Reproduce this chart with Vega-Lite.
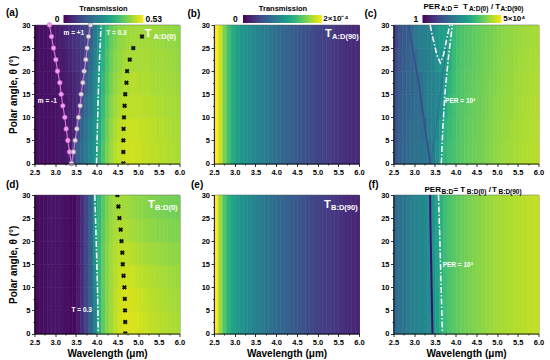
{
"$schema":"https://vega.github.io/schema/vega-lite/v6.json",
"background":"white",
"padding":{"left":5.5,"top":2,"right":5,"bottom":5},
"autosize":{"type":"pad"},
"config":{
 "font":"Liberation Sans",
 "view":{"stroke":"#000","strokeWidth":0.8},
 "axis":{"labelFontSize":7.5,"labelFontWeight":"bold","labelColor":"#000","labelFlush":false,"labelOverlap":false,"titleFontSize":10,"titleFontWeight":"bold","titleColor":"#000","tickColor":"#000","tickSize":3,"tickWidth":0.8,"domainColor":"#000","domainWidth":0.8,"grid":false,"labelPadding":1.5,"titlePadding":3},
 "legend":{"gradientStrokeWidth":0,"padding":0,"labelOpacity":0}
},
"datasets":{
"A":[
{"x":2.55,"y":2.5,"v":0.021},{"x":2.65,"y":2.5,"v":0.021},{"x":2.75,"y":2.5,"v":0.021},{"x":2.85,"y":2.5,"v":0.021},{"x":2.95,"y":2.5,"v":0.021},{"x":3.05,"y":2.5,"v":0.027},{"x":3.15,"y":2.5,"v":0.027},{"x":3.25,"y":2.5,"v":0.032},{"x":3.35,"y":2.5,"v":0.037},{"x":3.45,"y":2.5,"v":0.106},{"x":3.55,"y":2.5,"v":0.164},{"x":3.65,"y":2.5,"v":0.191},{"x":3.75,"y":2.5,"v":0.217},{"x":3.85,"y":2.5,"v":0.249},{"x":3.95,"y":2.5,"v":0.276},{"x":4.05,"y":2.5,"v":0.329},{"x":4.15,"y":2.5,"v":0.382},{"x":4.25,"y":2.5,"v":0.424},{"x":4.35,"y":2.5,"v":0.451},{"x":4.45,"y":2.5,"v":0.472},{"x":4.55,"y":2.5,"v":0.482},{"x":4.65,"y":2.5,"v":0.488},{"x":4.75,"y":2.5,"v":0.493},{"x":4.85,"y":2.5,"v":0.493},{"x":4.95,"y":2.5,"v":0.488},{"x":5.05,"y":2.5,"v":0.488},{"x":5.15,"y":2.5,"v":0.482},{"x":5.25,"y":2.5,"v":0.482},{"x":5.35,"y":2.5,"v":0.477},{"x":5.45,"y":2.5,"v":0.477},{"x":5.55,"y":2.5,"v":0.472},{"x":5.65,"y":2.5,"v":0.472},{"x":5.75,"y":2.5,"v":0.466},{"x":5.85,"y":2.5,"v":0.466},{"x":5.95,"y":2.5,"v":0.461},
{"x":2.55,"y":7.5,"v":0.021},{"x":2.65,"y":7.5,"v":0.021},{"x":2.75,"y":7.5,"v":0.021},{"x":2.85,"y":7.5,"v":0.021},{"x":2.95,"y":7.5,"v":0.021},{"x":3.05,"y":7.5,"v":0.027},{"x":3.15,"y":7.5,"v":0.027},{"x":3.25,"y":7.5,"v":0.032},{"x":3.35,"y":7.5,"v":0.037},{"x":3.45,"y":7.5,"v":0.048},{"x":3.55,"y":7.5,"v":0.127},{"x":3.65,"y":7.5,"v":0.175},{"x":3.75,"y":7.5,"v":0.207},{"x":3.85,"y":7.5,"v":0.239},{"x":3.95,"y":7.5,"v":0.270},{"x":4.05,"y":7.5,"v":0.318},{"x":4.15,"y":7.5,"v":0.371},{"x":4.25,"y":7.5,"v":0.413},{"x":4.35,"y":7.5,"v":0.445},{"x":4.45,"y":7.5,"v":0.466},{"x":4.55,"y":7.5,"v":0.477},{"x":4.65,"y":7.5,"v":0.482},{"x":4.75,"y":7.5,"v":0.488},{"x":4.85,"y":7.5,"v":0.488},{"x":4.95,"y":7.5,"v":0.488},{"x":5.05,"y":7.5,"v":0.482},{"x":5.15,"y":7.5,"v":0.482},{"x":5.25,"y":7.5,"v":0.477},{"x":5.35,"y":7.5,"v":0.477},{"x":5.45,"y":7.5,"v":0.472},{"x":5.55,"y":7.5,"v":0.472},{"x":5.65,"y":7.5,"v":0.466},{"x":5.75,"y":7.5,"v":0.466},{"x":5.85,"y":7.5,"v":0.461},{"x":5.95,"y":7.5,"v":0.461},
{"x":2.55,"y":12.5,"v":0.021},{"x":2.65,"y":12.5,"v":0.021},{"x":2.75,"y":12.5,"v":0.021},{"x":2.85,"y":12.5,"v":0.021},{"x":2.95,"y":12.5,"v":0.021},{"x":3.05,"y":12.5,"v":0.027},{"x":3.15,"y":12.5,"v":0.027},{"x":3.25,"y":12.5,"v":0.032},{"x":3.35,"y":12.5,"v":0.042},{"x":3.45,"y":12.5,"v":0.053},{"x":3.55,"y":12.5,"v":0.069},{"x":3.65,"y":12.5,"v":0.143},{"x":3.75,"y":12.5,"v":0.180},{"x":3.85,"y":12.5,"v":0.217},{"x":3.95,"y":12.5,"v":0.260},{"x":4.05,"y":12.5,"v":0.307},{"x":4.15,"y":12.5,"v":0.360},{"x":4.25,"y":12.5,"v":0.403},{"x":4.35,"y":12.5,"v":0.435},{"x":4.45,"y":12.5,"v":0.456},{"x":4.55,"y":12.5,"v":0.466},{"x":4.65,"y":12.5,"v":0.477},{"x":4.75,"y":12.5,"v":0.477},{"x":4.85,"y":12.5,"v":0.477},{"x":4.95,"y":12.5,"v":0.477},{"x":5.05,"y":12.5,"v":0.477},{"x":5.15,"y":12.5,"v":0.472},{"x":5.25,"y":12.5,"v":0.472},{"x":5.35,"y":12.5,"v":0.472},{"x":5.45,"y":12.5,"v":0.466},{"x":5.55,"y":12.5,"v":0.466},{"x":5.65,"y":12.5,"v":0.461},{"x":5.75,"y":12.5,"v":0.461},{"x":5.85,"y":12.5,"v":0.461},{"x":5.95,"y":12.5,"v":0.456},
{"x":2.55,"y":17.5,"v":0.021},{"x":2.65,"y":17.5,"v":0.021},{"x":2.75,"y":17.5,"v":0.021},{"x":2.85,"y":17.5,"v":0.021},{"x":2.95,"y":17.5,"v":0.027},{"x":3.05,"y":17.5,"v":0.027},{"x":3.15,"y":17.5,"v":0.032},{"x":3.25,"y":17.5,"v":0.037},{"x":3.35,"y":17.5,"v":0.042},{"x":3.45,"y":17.5,"v":0.053},{"x":3.55,"y":17.5,"v":0.069},{"x":3.65,"y":17.5,"v":0.090},{"x":3.75,"y":17.5,"v":0.159},{"x":3.85,"y":17.5,"v":0.201},{"x":3.95,"y":17.5,"v":0.249},{"x":4.05,"y":17.5,"v":0.297},{"x":4.15,"y":17.5,"v":0.350},{"x":4.25,"y":17.5,"v":0.392},{"x":4.35,"y":17.5,"v":0.424},{"x":4.45,"y":17.5,"v":0.445},{"x":4.55,"y":17.5,"v":0.456},{"x":4.65,"y":17.5,"v":0.466},{"x":4.75,"y":17.5,"v":0.466},{"x":4.85,"y":17.5,"v":0.472},{"x":4.95,"y":17.5,"v":0.472},{"x":5.05,"y":17.5,"v":0.466},{"x":5.15,"y":17.5,"v":0.466},{"x":5.25,"y":17.5,"v":0.466},{"x":5.35,"y":17.5,"v":0.461},{"x":5.45,"y":17.5,"v":0.461},{"x":5.55,"y":17.5,"v":0.461},{"x":5.65,"y":17.5,"v":0.456},{"x":5.75,"y":17.5,"v":0.456},{"x":5.85,"y":17.5,"v":0.456},{"x":5.95,"y":17.5,"v":0.451},
{"x":2.55,"y":22.5,"v":0.021},{"x":2.65,"y":22.5,"v":0.021},{"x":2.75,"y":22.5,"v":0.021},{"x":2.85,"y":22.5,"v":0.021},{"x":2.95,"y":22.5,"v":0.027},{"x":3.05,"y":22.5,"v":0.032},{"x":3.15,"y":22.5,"v":0.037},{"x":3.25,"y":22.5,"v":0.042},{"x":3.35,"y":22.5,"v":0.053},{"x":3.45,"y":22.5,"v":0.064},{"x":3.55,"y":22.5,"v":0.074},{"x":3.65,"y":22.5,"v":0.090},{"x":3.75,"y":22.5,"v":0.127},{"x":3.85,"y":22.5,"v":0.180},{"x":3.95,"y":22.5,"v":0.228},{"x":4.05,"y":22.5,"v":0.281},{"x":4.15,"y":22.5,"v":0.339},{"x":4.25,"y":22.5,"v":0.382},{"x":4.35,"y":22.5,"v":0.413},{"x":4.45,"y":22.5,"v":0.435},{"x":4.55,"y":22.5,"v":0.445},{"x":4.65,"y":22.5,"v":0.456},{"x":4.75,"y":22.5,"v":0.461},{"x":4.85,"y":22.5,"v":0.461},{"x":4.95,"y":22.5,"v":0.461},{"x":5.05,"y":22.5,"v":0.461},{"x":5.15,"y":22.5,"v":0.461},{"x":5.25,"y":22.5,"v":0.461},{"x":5.35,"y":22.5,"v":0.456},{"x":5.45,"y":22.5,"v":0.456},{"x":5.55,"y":22.5,"v":0.456},{"x":5.65,"y":22.5,"v":0.451},{"x":5.75,"y":22.5,"v":0.451},{"x":5.85,"y":22.5,"v":0.451},{"x":5.95,"y":22.5,"v":0.445},
{"x":2.55,"y":27.5,"v":0.021},{"x":2.65,"y":27.5,"v":0.021},{"x":2.75,"y":27.5,"v":0.021},{"x":2.85,"y":27.5,"v":0.027},{"x":2.95,"y":27.5,"v":0.032},{"x":3.05,"y":27.5,"v":0.037},{"x":3.15,"y":27.5,"v":0.042},{"x":3.25,"y":27.5,"v":0.053},{"x":3.35,"y":27.5,"v":0.064},{"x":3.45,"y":27.5,"v":0.074},{"x":3.55,"y":27.5,"v":0.085},{"x":3.65,"y":27.5,"v":0.095},{"x":3.75,"y":27.5,"v":0.106},{"x":3.85,"y":27.5,"v":0.159},{"x":3.95,"y":27.5,"v":0.212},{"x":4.05,"y":27.5,"v":0.265},{"x":4.15,"y":27.5,"v":0.329},{"x":4.25,"y":27.5,"v":0.371},{"x":4.35,"y":27.5,"v":0.403},{"x":4.45,"y":27.5,"v":0.424},{"x":4.55,"y":27.5,"v":0.440},{"x":4.65,"y":27.5,"v":0.445},{"x":4.75,"y":27.5,"v":0.451},{"x":4.85,"y":27.5,"v":0.456},{"x":4.95,"y":27.5,"v":0.456},{"x":5.05,"y":27.5,"v":0.456},{"x":5.15,"y":27.5,"v":0.456},{"x":5.25,"y":27.5,"v":0.456},{"x":5.35,"y":27.5,"v":0.451},{"x":5.45,"y":27.5,"v":0.451},{"x":5.55,"y":27.5,"v":0.451},{"x":5.65,"y":27.5,"v":0.445},{"x":5.75,"y":27.5,"v":0.445},{"x":5.85,"y":27.5,"v":0.445},{"x":5.95,"y":27.5,"v":0.440}
],
"B":[
{"x":2.55,"y":15,"v":2.0e-4},{"x":2.65,"y":15,"v":1.84e-4},{"x":2.75,"y":15,"v":1.6e-4},{"x":2.85,"y":15,"v":1.4e-4},{"x":2.95,"y":15,"v":1.24e-4},{"x":3.05,"y":15,"v":1.14e-4},{"x":3.15,"y":15,"v":1.06e-4},{"x":3.25,"y":15,"v":1.02e-4},{"x":3.35,"y":15,"v":9.8e-5},{"x":3.45,"y":15,"v":9.4e-5},{"x":3.55,"y":15,"v":9.0e-5},{"x":3.65,"y":15,"v":8.6e-5},{"x":3.75,"y":15,"v":8.2e-5},{"x":3.85,"y":15,"v":7.8e-5},{"x":3.95,"y":15,"v":7.4e-5},{"x":4.05,"y":15,"v":7.0e-5},{"x":4.15,"y":15,"v":6.7e-5},{"x":4.25,"y":15,"v":6.4e-5},{"x":4.35,"y":15,"v":6.0e-5},{"x":4.45,"y":15,"v":5.7e-5},{"x":4.55,"y":15,"v":5.4e-5},{"x":4.65,"y":15,"v":5.1e-5},{"x":4.75,"y":15,"v":4.8e-5},{"x":4.85,"y":15,"v":4.5e-5},{"x":4.95,"y":15,"v":4.2e-5},{"x":5.05,"y":15,"v":4.0e-5},{"x":5.15,"y":15,"v":3.8e-5},{"x":5.25,"y":15,"v":3.6e-5},{"x":5.35,"y":15,"v":3.3e-5},{"x":5.45,"y":15,"v":3.1e-5},{"x":5.55,"y":15,"v":2.9e-5},{"x":5.65,"y":15,"v":2.7e-5},{"x":5.75,"y":15,"v":2.5e-5},{"x":5.85,"y":15,"v":2.4e-5},{"x":5.95,"y":15,"v":2.3e-5}
],
"C":[
{"x":2.55,"y":2.5,"v":18.6},{"x":2.65,"y":2.5,"v":28.6},{"x":2.75,"y":2.5,"v":35.5},{"x":2.85,"y":2.5,"v":44.2},{"x":2.95,"y":2.5,"v":49.2},{"x":3.05,"y":2.5,"v":54.8},{"x":3.15,"y":2.5,"v":61.1},{"x":3.25,"y":2.5,"v":68.1},{"x":3.35,"y":2.5,"v":61.1},{"x":3.45,"y":2.5,"v":94.2},{"x":3.55,"y":2.5,"v":224},{"x":3.65,"y":2.5,"v":531},{"x":3.75,"y":2.5,"v":1262},{"x":3.85,"y":2.5,"v":1746},{"x":3.95,"y":2.5,"v":2168},{"x":4.05,"y":2.5,"v":2692},{"x":4.15,"y":2.5,"v":3170},{"x":4.25,"y":2.5,"v":3724},{"x":4.35,"y":2.5,"v":4150},{"x":4.45,"y":2.5,"v":4624},{"x":4.55,"y":2.5,"v":5152},{"x":4.65,"y":2.5,"v":5741},{"x":4.75,"y":2.5,"v":6397},{"x":4.85,"y":2.5,"v":7129},{"x":4.95,"y":2.5,"v":7943},{"x":5.05,"y":2.5,"v":8851},{"x":5.15,"y":2.5,"v":9863},{"x":5.25,"y":2.5,"v":10420},{"x":5.35,"y":2.5,"v":10990},{"x":5.45,"y":2.5,"v":12250},{"x":5.55,"y":2.5,"v":12940},{"x":5.65,"y":2.5,"v":13650},{"x":5.75,"y":2.5,"v":14420},{"x":5.85,"y":2.5,"v":15210},{"x":5.95,"y":2.5,"v":16070},
{"x":2.55,"y":7.5,"v":16.7},{"x":2.65,"y":7.5,"v":25.7},{"x":2.75,"y":7.5,"v":31.9},{"x":2.85,"y":7.5,"v":39.6},{"x":2.95,"y":7.5,"v":44.2},{"x":3.05,"y":7.5,"v":49.2},{"x":3.15,"y":7.5,"v":54.8},{"x":3.25,"y":7.5,"v":49.2},{"x":3.35,"y":7.5,"v":94.2},{"x":3.45,"y":7.5,"v":117},{"x":3.55,"y":7.5,"v":162},{"x":3.65,"y":7.5,"v":428},{"x":3.75,"y":7.5,"v":1133},{"x":3.85,"y":7.5,"v":1567},{"x":3.95,"y":7.5,"v":2054},{"x":4.05,"y":7.5,"v":2553},{"x":4.15,"y":7.5,"v":3000},{"x":4.25,"y":7.5,"v":3532},{"x":4.35,"y":7.5,"v":3936},{"x":4.45,"y":7.5,"v":4385},{"x":4.55,"y":7.5,"v":4887},{"x":4.65,"y":7.5,"v":5445},{"x":4.75,"y":7.5,"v":6067},{"x":4.85,"y":7.5,"v":6761},{"x":4.95,"y":7.5,"v":7534},{"x":5.05,"y":7.5,"v":8395},{"x":5.15,"y":7.5,"v":9354},{"x":5.25,"y":7.5,"v":9863},{"x":5.35,"y":7.5,"v":10420},{"x":5.45,"y":7.5,"v":11610},{"x":5.55,"y":7.5,"v":12250},{"x":5.65,"y":7.5,"v":12940},{"x":5.75,"y":7.5,"v":13650},{"x":5.85,"y":7.5,"v":14420},{"x":5.95,"y":7.5,"v":15210},
{"x":2.55,"y":12.5,"v":15.0},{"x":2.65,"y":12.5,"v":23.1},{"x":2.75,"y":12.5,"v":28.6},{"x":2.85,"y":12.5,"v":35.5},{"x":2.95,"y":12.5,"v":39.6},{"x":3.05,"y":12.5,"v":44.2},{"x":3.15,"y":12.5,"v":39.6},{"x":3.25,"y":12.5,"v":84.5},{"x":3.35,"y":12.5,"v":105},{"x":3.45,"y":12.5,"v":117},{"x":3.55,"y":12.5,"v":145},{"x":3.65,"y":12.5,"v":224},{"x":3.75,"y":12.5,"v":659},{"x":3.85,"y":12.5,"v":1406},{"x":3.95,"y":12.5,"v":1946},{"x":4.05,"y":12.5,"v":2415},{"x":4.15,"y":12.5,"v":2844},{"x":4.25,"y":12.5,"v":3343},{"x":4.35,"y":12.5,"v":3724},{"x":4.45,"y":12.5,"v":4150},{"x":4.55,"y":12.5,"v":4624},{"x":4.65,"y":12.5,"v":5152},{"x":4.75,"y":12.5,"v":5741},{"x":4.85,"y":12.5,"v":6397},{"x":4.95,"y":12.5,"v":7129},{"x":5.05,"y":12.5,"v":7943},{"x":5.15,"y":12.5,"v":8851},{"x":5.25,"y":12.5,"v":9354},{"x":5.35,"y":12.5,"v":9863},{"x":5.45,"y":12.5,"v":10990},{"x":5.55,"y":12.5,"v":11610},{"x":5.65,"y":12.5,"v":12250},{"x":5.75,"y":12.5,"v":12940},{"x":5.85,"y":12.5,"v":13650},{"x":5.95,"y":12.5,"v":14420},
{"x":2.55,"y":17.5,"v":13.4},{"x":2.65,"y":17.5,"v":20.7},{"x":2.75,"y":17.5,"v":25.7},{"x":2.85,"y":17.5,"v":31.9},{"x":2.95,"y":17.5,"v":35.5},{"x":3.05,"y":17.5,"v":39.6},{"x":3.15,"y":17.5,"v":49.2},{"x":3.25,"y":17.5,"v":84.5},{"x":3.35,"y":17.5,"v":105},{"x":3.45,"y":17.5,"v":117},{"x":3.55,"y":17.5,"v":145},{"x":3.65,"y":17.5,"v":180},{"x":3.75,"y":17.5,"v":384},{"x":3.85,"y":17.5,"v":1133},{"x":3.95,"y":17.5,"v":1746},{"x":4.05,"y":17.5,"v":2291},{"x":4.15,"y":17.5,"v":2692},{"x":4.25,"y":17.5,"v":3170},{"x":4.35,"y":17.5,"v":3532},{"x":4.45,"y":17.5,"v":3936},{"x":4.55,"y":17.5,"v":4385},{"x":4.65,"y":17.5,"v":4887},{"x":4.75,"y":17.5,"v":5445},{"x":4.85,"y":17.5,"v":6067},{"x":4.95,"y":17.5,"v":6761},{"x":5.05,"y":17.5,"v":7534},{"x":5.15,"y":17.5,"v":8395},{"x":5.25,"y":17.5,"v":8851},{"x":5.35,"y":17.5,"v":9354},{"x":5.45,"y":17.5,"v":10420},{"x":5.55,"y":17.5,"v":10990},{"x":5.65,"y":17.5,"v":11610},{"x":5.75,"y":17.5,"v":12250},{"x":5.85,"y":17.5,"v":12940},{"x":5.95,"y":17.5,"v":13650},
{"x":2.55,"y":22.5,"v":10.8},{"x":2.65,"y":22.5,"v":18.6},{"x":2.75,"y":22.5,"v":23.1},{"x":2.85,"y":22.5,"v":28.6},{"x":2.95,"y":22.5,"v":31.9},{"x":3.05,"y":22.5,"v":49.2},{"x":3.15,"y":22.5,"v":84.5},{"x":3.25,"y":22.5,"v":94.2},{"x":3.35,"y":22.5,"v":105},{"x":3.45,"y":22.5,"v":130},{"x":3.55,"y":22.5,"v":224},{"x":3.65,"y":22.5,"v":277},{"x":3.75,"y":22.5,"v":344},{"x":3.85,"y":22.5,"v":819},{"x":3.95,"y":22.5,"v":1567},{"x":4.05,"y":22.5,"v":2168},{"x":4.15,"y":22.5,"v":2553},{"x":4.25,"y":22.5,"v":3000},{"x":4.35,"y":22.5,"v":3343},{"x":4.45,"y":22.5,"v":3724},{"x":4.55,"y":22.5,"v":4150},{"x":4.65,"y":22.5,"v":4624},{"x":4.75,"y":22.5,"v":5152},{"x":4.85,"y":22.5,"v":5741},{"x":4.95,"y":22.5,"v":6397},{"x":5.05,"y":22.5,"v":7129},{"x":5.15,"y":22.5,"v":7943},{"x":5.25,"y":22.5,"v":8395},{"x":5.35,"y":22.5,"v":8851},{"x":5.45,"y":22.5,"v":9863},{"x":5.55,"y":22.5,"v":10420},{"x":5.65,"y":22.5,"v":10990},{"x":5.75,"y":22.5,"v":11610},{"x":5.85,"y":22.5,"v":12250},{"x":5.95,"y":22.5,"v":12940},
{"x":2.55,"y":27.5,"v":8.7},{"x":2.65,"y":27.5,"v":16.7},{"x":2.75,"y":27.5,"v":20.7},{"x":2.85,"y":27.5,"v":25.7},{"x":2.95,"y":27.5,"v":44.2},{"x":3.05,"y":27.5,"v":75.8},{"x":3.15,"y":27.5,"v":94.2},{"x":3.25,"y":27.5,"v":105},{"x":3.35,"y":27.5,"v":117},{"x":3.45,"y":27.5,"v":162},{"x":3.55,"y":27.5,"v":309},{"x":3.65,"y":27.5,"v":428},{"x":3.75,"y":27.5,"v":428},{"x":3.85,"y":27.5,"v":659},{"x":3.95,"y":27.5,"v":1406},{"x":4.05,"y":27.5,"v":2054},{"x":4.15,"y":27.5,"v":2415},{"x":4.25,"y":27.5,"v":2844},{"x":4.35,"y":27.5,"v":3170},{"x":4.45,"y":27.5,"v":3532},{"x":4.55,"y":27.5,"v":3936},{"x":4.65,"y":27.5,"v":4385},{"x":4.75,"y":27.5,"v":4887},{"x":4.85,"y":27.5,"v":5445},{"x":4.95,"y":27.5,"v":6067},{"x":5.05,"y":27.5,"v":6761},{"x":5.15,"y":27.5,"v":7534},{"x":5.25,"y":27.5,"v":7943},{"x":5.35,"y":27.5,"v":8395},{"x":5.45,"y":27.5,"v":9354},{"x":5.55,"y":27.5,"v":9863},{"x":5.65,"y":27.5,"v":10420},{"x":5.75,"y":27.5,"v":10990},{"x":5.85,"y":27.5,"v":11610},{"x":5.95,"y":27.5,"v":12250}
],
"D":[
{"x":2.55,"y":2.5,"v":0.016},{"x":2.65,"y":2.5,"v":0.016},{"x":2.75,"y":2.5,"v":0.021},{"x":2.85,"y":2.5,"v":0.027},{"x":2.95,"y":2.5,"v":0.027},{"x":3.05,"y":2.5,"v":0.027},{"x":3.15,"y":2.5,"v":0.027},{"x":3.25,"y":2.5,"v":0.021},{"x":3.35,"y":2.5,"v":0.011},{"x":3.45,"y":2.5,"v":0.011},{"x":3.55,"y":2.5,"v":0.037},{"x":3.65,"y":2.5,"v":0.069},{"x":3.75,"y":2.5,"v":0.111},{"x":3.85,"y":2.5,"v":0.164},{"x":3.95,"y":2.5,"v":0.233},{"x":4.05,"y":2.5,"v":0.334},{"x":4.15,"y":2.5,"v":0.398},{"x":4.25,"y":2.5,"v":0.435},{"x":4.35,"y":2.5,"v":0.456},{"x":4.45,"y":2.5,"v":0.477},{"x":4.55,"y":2.5,"v":0.493},{"x":4.65,"y":2.5,"v":0.501},{"x":4.75,"y":2.5,"v":0.504},{"x":4.85,"y":2.5,"v":0.501},{"x":4.95,"y":2.5,"v":0.498},{"x":5.05,"y":2.5,"v":0.493},{"x":5.15,"y":2.5,"v":0.488},{"x":5.25,"y":2.5,"v":0.482},{"x":5.35,"y":2.5,"v":0.480},{"x":5.45,"y":2.5,"v":0.477},{"x":5.55,"y":2.5,"v":0.472},{"x":5.65,"y":2.5,"v":0.469},{"x":5.75,"y":2.5,"v":0.466},{"x":5.85,"y":2.5,"v":0.464},{"x":5.95,"y":2.5,"v":0.461},
{"x":2.55,"y":7.5,"v":0.016},{"x":2.65,"y":7.5,"v":0.016},{"x":2.75,"y":7.5,"v":0.021},{"x":2.85,"y":7.5,"v":0.027},{"x":2.95,"y":7.5,"v":0.027},{"x":3.05,"y":7.5,"v":0.027},{"x":3.15,"y":7.5,"v":0.027},{"x":3.25,"y":7.5,"v":0.021},{"x":3.35,"y":7.5,"v":0.011},{"x":3.45,"y":7.5,"v":0.011},{"x":3.55,"y":7.5,"v":0.037},{"x":3.65,"y":7.5,"v":0.069},{"x":3.75,"y":7.5,"v":0.111},{"x":3.85,"y":7.5,"v":0.164},{"x":3.95,"y":7.5,"v":0.239},{"x":4.05,"y":7.5,"v":0.339},{"x":4.15,"y":7.5,"v":0.398},{"x":4.25,"y":7.5,"v":0.435},{"x":4.35,"y":7.5,"v":0.456},{"x":4.45,"y":7.5,"v":0.477},{"x":4.55,"y":7.5,"v":0.490},{"x":4.65,"y":7.5,"v":0.498},{"x":4.75,"y":7.5,"v":0.498},{"x":4.85,"y":7.5,"v":0.496},{"x":4.95,"y":7.5,"v":0.493},{"x":5.05,"y":7.5,"v":0.488},{"x":5.15,"y":7.5,"v":0.482},{"x":5.25,"y":7.5,"v":0.477},{"x":5.35,"y":7.5,"v":0.474},{"x":5.45,"y":7.5,"v":0.472},{"x":5.55,"y":7.5,"v":0.466},{"x":5.65,"y":7.5,"v":0.464},{"x":5.75,"y":7.5,"v":0.461},{"x":5.85,"y":7.5,"v":0.458},{"x":5.95,"y":7.5,"v":0.456},
{"x":2.55,"y":12.5,"v":0.016},{"x":2.65,"y":12.5,"v":0.016},{"x":2.75,"y":12.5,"v":0.021},{"x":2.85,"y":12.5,"v":0.027},{"x":2.95,"y":12.5,"v":0.027},{"x":3.05,"y":12.5,"v":0.027},{"x":3.15,"y":12.5,"v":0.027},{"x":3.25,"y":12.5,"v":0.021},{"x":3.35,"y":12.5,"v":0.011},{"x":3.45,"y":12.5,"v":0.011},{"x":3.55,"y":12.5,"v":0.037},{"x":3.65,"y":12.5,"v":0.069},{"x":3.75,"y":12.5,"v":0.111},{"x":3.85,"y":12.5,"v":0.164},{"x":3.95,"y":12.5,"v":0.249},{"x":4.05,"y":12.5,"v":0.345},{"x":4.15,"y":12.5,"v":0.403},{"x":4.25,"y":12.5,"v":0.435},{"x":4.35,"y":12.5,"v":0.456},{"x":4.45,"y":12.5,"v":0.472},{"x":4.55,"y":12.5,"v":0.485},{"x":4.65,"y":12.5,"v":0.490},{"x":4.75,"y":12.5,"v":0.490},{"x":4.85,"y":12.5,"v":0.488},{"x":4.95,"y":12.5,"v":0.482},{"x":5.05,"y":12.5,"v":0.477},{"x":5.15,"y":12.5,"v":0.472},{"x":5.25,"y":12.5,"v":0.469},{"x":5.35,"y":12.5,"v":0.466},{"x":5.45,"y":12.5,"v":0.464},{"x":5.55,"y":12.5,"v":0.461},{"x":5.65,"y":12.5,"v":0.458},{"x":5.75,"y":12.5,"v":0.456},{"x":5.85,"y":12.5,"v":0.453},{"x":5.95,"y":12.5,"v":0.451},
{"x":2.55,"y":17.5,"v":0.016},{"x":2.65,"y":17.5,"v":0.016},{"x":2.75,"y":17.5,"v":0.021},{"x":2.85,"y":17.5,"v":0.027},{"x":2.95,"y":17.5,"v":0.027},{"x":3.05,"y":17.5,"v":0.027},{"x":3.15,"y":17.5,"v":0.027},{"x":3.25,"y":17.5,"v":0.021},{"x":3.35,"y":17.5,"v":0.011},{"x":3.45,"y":17.5,"v":0.011},{"x":3.55,"y":17.5,"v":0.037},{"x":3.65,"y":17.5,"v":0.069},{"x":3.75,"y":17.5,"v":0.111},{"x":3.85,"y":17.5,"v":0.164},{"x":3.95,"y":17.5,"v":0.260},{"x":4.05,"y":17.5,"v":0.350},{"x":4.15,"y":17.5,"v":0.403},{"x":4.25,"y":17.5,"v":0.435},{"x":4.35,"y":17.5,"v":0.456},{"x":4.45,"y":17.5,"v":0.469},{"x":4.55,"y":17.5,"v":0.477},{"x":4.65,"y":17.5,"v":0.480},{"x":4.75,"y":17.5,"v":0.477},{"x":4.85,"y":17.5,"v":0.474},{"x":4.95,"y":17.5,"v":0.469},{"x":5.05,"y":17.5,"v":0.464},{"x":5.15,"y":17.5,"v":0.458},{"x":5.25,"y":17.5,"v":0.456},{"x":5.35,"y":17.5,"v":0.453},{"x":5.45,"y":17.5,"v":0.451},{"x":5.55,"y":17.5,"v":0.448},{"x":5.65,"y":17.5,"v":0.445},{"x":5.75,"y":17.5,"v":0.443},{"x":5.85,"y":17.5,"v":0.440},{"x":5.95,"y":17.5,"v":0.440},
{"x":2.55,"y":22.5,"v":0.016},{"x":2.65,"y":22.5,"v":0.016},{"x":2.75,"y":22.5,"v":0.021},{"x":2.85,"y":22.5,"v":0.027},{"x":2.95,"y":22.5,"v":0.027},{"x":3.05,"y":22.5,"v":0.027},{"x":3.15,"y":22.5,"v":0.027},{"x":3.25,"y":22.5,"v":0.021},{"x":3.35,"y":22.5,"v":0.011},{"x":3.45,"y":22.5,"v":0.011},{"x":3.55,"y":22.5,"v":0.037},{"x":3.65,"y":22.5,"v":0.069},{"x":3.75,"y":22.5,"v":0.111},{"x":3.85,"y":22.5,"v":0.164},{"x":3.95,"y":22.5,"v":0.270},{"x":4.05,"y":22.5,"v":0.350},{"x":4.15,"y":22.5,"v":0.398},{"x":4.25,"y":22.5,"v":0.429},{"x":4.35,"y":22.5,"v":0.451},{"x":4.45,"y":22.5,"v":0.461},{"x":4.55,"y":22.5,"v":0.466},{"x":4.65,"y":22.5,"v":0.466},{"x":4.75,"y":22.5,"v":0.464},{"x":4.85,"y":22.5,"v":0.458},{"x":4.95,"y":22.5,"v":0.453},{"x":5.05,"y":22.5,"v":0.451},{"x":5.15,"y":22.5,"v":0.445},{"x":5.25,"y":22.5,"v":0.443},{"x":5.35,"y":22.5,"v":0.440},{"x":5.45,"y":22.5,"v":0.437},{"x":5.55,"y":22.5,"v":0.435},{"x":5.65,"y":22.5,"v":0.432},{"x":5.75,"y":22.5,"v":0.429},{"x":5.85,"y":22.5,"v":0.429},{"x":5.95,"y":22.5,"v":0.427},
{"x":2.55,"y":27.5,"v":0.016},{"x":2.65,"y":27.5,"v":0.016},{"x":2.75,"y":27.5,"v":0.021},{"x":2.85,"y":27.5,"v":0.027},{"x":2.95,"y":27.5,"v":0.027},{"x":3.05,"y":27.5,"v":0.027},{"x":3.15,"y":27.5,"v":0.027},{"x":3.25,"y":27.5,"v":0.021},{"x":3.35,"y":27.5,"v":0.011},{"x":3.45,"y":27.5,"v":0.011},{"x":3.55,"y":27.5,"v":0.037},{"x":3.65,"y":27.5,"v":0.069},{"x":3.75,"y":27.5,"v":0.111},{"x":3.85,"y":27.5,"v":0.164},{"x":3.95,"y":27.5,"v":0.281},{"x":4.05,"y":27.5,"v":0.350},{"x":4.15,"y":27.5,"v":0.392},{"x":4.25,"y":27.5,"v":0.424},{"x":4.35,"y":27.5,"v":0.445},{"x":4.45,"y":27.5,"v":0.456},{"x":4.55,"y":27.5,"v":0.458},{"x":4.65,"y":27.5,"v":0.456},{"x":4.75,"y":27.5,"v":0.453},{"x":4.85,"y":27.5,"v":0.448},{"x":4.95,"y":27.5,"v":0.443},{"x":5.05,"y":27.5,"v":0.440},{"x":5.15,"y":27.5,"v":0.435},{"x":5.25,"y":27.5,"v":0.432},{"x":5.35,"y":27.5,"v":0.429},{"x":5.45,"y":27.5,"v":0.427},{"x":5.55,"y":27.5,"v":0.424},{"x":5.65,"y":27.5,"v":0.421},{"x":5.75,"y":27.5,"v":0.419},{"x":5.85,"y":27.5,"v":0.419},{"x":5.95,"y":27.5,"v":0.416}
],
"E":[
{"x":2.55,"y":15,"v":2.0e-4},{"x":2.65,"y":15,"v":1.7e-4},{"x":2.75,"y":15,"v":1.44e-4},{"x":2.85,"y":15,"v":1.28e-4},{"x":2.95,"y":15,"v":1.16e-4},{"x":3.05,"y":15,"v":1.08e-4},{"x":3.15,"y":15,"v":1.02e-4},{"x":3.25,"y":15,"v":9.8e-5},{"x":3.35,"y":15,"v":9.4e-5},{"x":3.45,"y":15,"v":9.0e-5},{"x":3.55,"y":15,"v":8.6e-5},{"x":3.65,"y":15,"v":8.2e-5},{"x":3.75,"y":15,"v":7.8e-5},{"x":3.85,"y":15,"v":7.4e-5},{"x":3.95,"y":15,"v":7.0e-5},{"x":4.05,"y":15,"v":6.7e-5},{"x":4.15,"y":15,"v":6.4e-5},{"x":4.25,"y":15,"v":6.1e-5},{"x":4.35,"y":15,"v":5.8e-5},{"x":4.45,"y":15,"v":5.5e-5},{"x":4.55,"y":15,"v":5.2e-5},{"x":4.65,"y":15,"v":4.9e-5},{"x":4.75,"y":15,"v":4.6e-5},{"x":4.85,"y":15,"v":4.3e-5},{"x":4.95,"y":15,"v":4.0e-5},{"x":5.05,"y":15,"v":3.8e-5},{"x":5.15,"y":15,"v":3.6e-5},{"x":5.25,"y":15,"v":3.4e-5},{"x":5.35,"y":15,"v":3.2e-5},{"x":5.45,"y":15,"v":3.0e-5},{"x":5.55,"y":15,"v":2.8e-5},{"x":5.65,"y":15,"v":2.6e-5},{"x":5.75,"y":15,"v":2.4e-5},{"x":5.85,"y":15,"v":2.2e-5},{"x":5.95,"y":15,"v":2.0e-5}
],
"F":[
{"x":2.55,"y":15,"v":44.2},{"x":2.65,"y":15,"v":54.8},{"x":2.75,"y":15,"v":68.1},{"x":2.85,"y":15,"v":84.5},{"x":2.95,"y":15,"v":105},{"x":3.05,"y":15,"v":117},{"x":3.15,"y":15,"v":145},{"x":3.25,"y":15,"v":162},{"x":3.35,"y":15,"v":180},{"x":3.45,"y":15,"v":277},{"x":3.55,"y":15,"v":531},{"x":3.65,"y":15,"v":1016},{"x":3.75,"y":15,"v":1746},{"x":3.85,"y":15,"v":2415},{"x":3.95,"y":15,"v":3170},{"x":4.05,"y":15,"v":3724},{"x":4.15,"y":15,"v":4385},{"x":4.25,"y":15,"v":5152},{"x":4.35,"y":15,"v":5741},{"x":4.45,"y":15,"v":6397},{"x":4.55,"y":15,"v":7129},{"x":4.65,"y":15,"v":7943},{"x":4.75,"y":15,"v":8851},{"x":4.85,"y":15,"v":9863},{"x":4.95,"y":15,"v":10990},{"x":5.05,"y":15,"v":11610},{"x":5.15,"y":15,"v":12250},{"x":5.25,"y":15,"v":12940},{"x":5.35,"y":15,"v":13650},{"x":5.45,"y":15,"v":14420},{"x":5.55,"y":15,"v":15210},{"x":5.65,"y":15,"v":16070},{"x":5.75,"y":15,"v":16940},{"x":5.85,"y":15,"v":17910},{"x":5.95,"y":15,"v":18880}
],
"M":[
{"m":"-1","y":0,"x":3.393},{"m":"-1","y":2.5,"x":3.345},{"m":"-1","y":5,"x":3.305},{"m":"-1","y":7.5,"x":3.264},{"m":"-1","y":10,"x":3.232},{"m":"-1","y":12.5,"x":3.184},{"m":"-1","y":15,"x":3.144},{"m":"-1","y":17.5,"x":3.111},{"m":"-1","y":20,"x":3.055},{"m":"-1","y":22.5,"x":3.015},{"m":"-1","y":25,"x":2.959},{"m":"-1","y":27.5,"x":2.910},{"m":"-1","y":30,"x":2.862},
{"m":"+1","y":0,"x":3.393},{"m":"+1","y":2.5,"x":3.441},{"m":"+1","y":5,"x":3.481},{"m":"+1","y":7.5,"x":3.522},{"m":"+1","y":10,"x":3.562},{"m":"+1","y":12.5,"x":3.602},{"m":"+1","y":15,"x":3.626},{"m":"+1","y":17.5,"x":3.667},{"m":"+1","y":20,"x":3.699},{"m":"+1","y":22.5,"x":3.739},{"m":"+1","y":25,"x":3.771},{"m":"+1","y":27.5,"x":3.803},{"m":"+1","y":30,"x":3.852}
],
"XA":[
{"y":0,"x":4.645},{"y":2.5,"x":4.645},{"y":5,"x":4.645},{"y":7.5,"x":4.65},{"y":10,"x":4.66},{"y":12.5,"x":4.675},{"y":15,"x":4.69},{"y":17.5,"x":4.72},{"y":20,"x":4.735},{"y":22.5,"x":4.80},{"y":25,"x":4.885},{"y":27.5,"x":5.095}
],
"XD":[
{"y":0,"x":4.69},{"y":2.5,"x":4.69},{"y":5,"x":4.685},{"y":7.5,"x":4.68},{"y":10,"x":4.67},{"y":12.5,"x":4.65},{"y":15,"x":4.63},{"y":17.5,"x":4.62},{"y":20,"x":4.60},{"y":22.5,"x":4.58},{"y":25,"x":4.55},{"y":27.5,"x":4.525},{"y":30,"x":4.50}
]
},
"resolve":{"scale":{"fill":"independent","stroke":"independent"}},
"bounds":"flush",
"columns":3,
"spacing":{"row":31,"column":34.5},
"concat":[
  {"width":145,"height":138.5,"resolve":{"axis":{"x":"independent","y":"independent"}},"layer":[
   {"data":{"name":"A"},"mark":{"type":"rect","strokeWidth":0.6},
    "encoding":{
     "x":{"field":"x","type":"quantitative","bin":{"step":0.1,"extent":[2.5,6]},"scale":{"domain":[2.5,6],"nice":false,"zero":false},"axis":{"values":[2.5,3,3.5,4,4.5,5,5.5,6],"format":".1f","orient":"bottom"},"title":null},
     "y":{"field":"y","type":"quantitative","bin":{"step":5,"extent":[0,30]},"scale":{"domain":[0,30],"nice":false,"zero":false},"axis":{"values":[0,5,10,15,20,25,30],"format":"d","orient":"left"},"title":"Polar angle, θ (°)"},
     "fill":{"field":"v","type":"quantitative","scale":{"domain":[0,0.53],"scheme":"viridis"},"legend":{"type":"gradient","orient":"none","legendX":29,"legendY":-20.5,"direction":"horizontal","gradientLength":80,"gradientThickness":8,"labelExpr":"''","labelFontSize":1,"labelOpacity":0,"title":"Transmission","titleFontSize":7.5,"titleFontWeight":"bold","titleColor":"#000","titleAnchor":"middle","titlePadding":3}},
     "stroke":{"field":"v","type":"quantitative","scale":{"domain":[-0.0001,0.53],"scheme":"viridis"},"legend":null}}},
   {"data":{"name":"M"},"mark":{"type":"line","stroke":"#cf6fcf","strokeWidth":1.2},"encoding":{"x":{"field":"x","type":"quantitative","axis":null},"y":{"field":"y","type":"quantitative","axis":null},"detail":{"field":"m","type":"nominal"}}},
   {"data":{"values":[{"x":3.996,"y":0},{"x":4.01,"y":5},{"x":4.025,"y":10},{"x":4.04,"y":15},{"x":4.06,"y":20},{"x":4.08,"y":25},{"x":4.107,"y":30}]},"mark":{"type":"line","stroke":"#ffffff","strokeWidth":1.5,"strokeDash":[6,2,1.5,2]},"encoding":{"x":{"field":"x","type":"quantitative","axis":null},"y":{"field":"y","type":"quantitative","axis":null}}},
   {"data":{"name":"M"},"transform":[{"filter":"datum.m=='-1'"}],"mark":{"type":"point","filled":true,"fill":"#f39ef0","stroke":"#c35fc3","strokeWidth":0.6,"size":22,"opacity":1},"encoding":{"x":{"field":"x","type":"quantitative","axis":null},"y":{"field":"y","type":"quantitative","axis":null}}},
   {"data":{"name":"M"},"transform":[{"filter":"datum.m=='+1'"}],"mark":{"type":"point","filled":true,"fill":"#dedede","stroke":"#a070a0","strokeWidth":0.6,"size":22,"opacity":1},"encoding":{"x":{"field":"x","type":"quantitative","axis":null},"y":{"field":"y","type":"quantitative","axis":null}}},
   {"data":{"name":"XA"},"mark":{"type":"point","shape":"cross","angle":45,"filled":true,"color":"#111111","size":24,"opacity":1,"clip":true},"encoding":{"x":{"field":"x","type":"quantitative","axis":null},"y":{"field":"y","type":"quantitative","axis":null}}},
   {"data":{"values":[{"x":3.45,"y":28.3,"t":"m = +1"},{"x":2.81,"y":13.5,"t":"m = -1"},{"x":4.48,"y":28.3,"t":"T = 0.3"}]},"mark":{"type":"text","align":"center","baseline":"middle","fontSize":6.5,"fontWeight":"bold","color":"#ffffff"},"encoding":{"x":{"field":"x","type":"quantitative","axis":null},"y":{"field":"y","type":"quantitative","axis":null},"text":{"field":"t","type":"nominal"}}},
   {"data":{"values":[{"x":5.16,"y":27.3,"t":"T"}]},"mark":{"type":"text","align":"left","baseline":"alphabetic","fontSize":11,"fontWeight":"bold","color":"#ffffff"},"encoding":{"x":{"field":"x","type":"quantitative","axis":null},"y":{"field":"y","type":"quantitative","axis":null},"text":{"field":"t","type":"nominal"}}},
   {"data":{"values":[{"x":5.37,"y":26.9,"t":"A:D(0)"}]},"mark":{"type":"text","align":"left","baseline":"alphabetic","fontSize":7.5,"fontWeight":"bold","color":"#ffffff"},"encoding":{"x":{"field":"x","type":"quantitative","axis":null},"y":{"field":"y","type":"quantitative","axis":null},"text":{"field":"t","type":"nominal"}}},
   {"data":{"values":[{"x":3.103,"y":30,"t":"0"}]},"mark":{"type":"text","align":"right","baseline":"middle","dy":-6,"fontSize":8.5,"fontWeight":"bold","color":"#000000"},"encoding":{"x":{"field":"x","type":"quantitative","axis":null},"y":{"field":"y","type":"quantitative","axis":null},"text":{"field":"t","type":"nominal"}}},
   {"data":{"values":[{"x":5.18,"y":30,"t":"0.53"}]},"mark":{"type":"text","align":"left","baseline":"middle","dy":-6,"fontSize":8.5,"fontWeight":"bold","color":"#000000"},"encoding":{"x":{"field":"x","type":"quantitative","axis":null},"y":{"field":"y","type":"quantitative","axis":null},"text":{"field":"t","type":"nominal"}}},
   {"data":{"values":[{"x":2.5,"y":30,"t":"(a)"}]},"mark":{"type":"text","align":"left","baseline":"middle","dx":-28.5,"dy":-12,"fontSize":10,"fontWeight":"bold","color":"#000000"},"encoding":{"x":{"field":"x","type":"quantitative","axis":{"values":[2.75,3.25,3.75,4.25,4.75,5.25,5.75],"labels":false,"domain":false,"tickSize":1.5,"orient":"bottom","title":null}},"y":{"field":"y","type":"quantitative","axis":{"values":[2.5,7.5,12.5,17.5,22.5,27.5],"labels":false,"domain":false,"tickSize":1.5,"orient":"left","title":null}},"text":{"field":"t","type":"nominal"}}}
  ]},
  {"width":145,"height":138.5,"resolve":{"axis":{"x":"independent","y":"independent"}},"layer":[
   {"data":{"name":"B"},"mark":{"type":"rect","strokeWidth":0.6},
    "encoding":{
     "x":{"field":"x","type":"quantitative","bin":{"step":0.1,"extent":[2.5,6]},"scale":{"domain":[2.5,6],"nice":false,"zero":false},"axis":{"values":[2.5,3,3.5,4,4.5,5,5.5,6],"format":".1f","orient":"bottom"},"title":null},
     "y":{"field":"y","type":"quantitative","bin":{"step":30,"extent":[0,30]},"scale":{"domain":[0,30],"nice":false,"zero":false},"axis":{"values":[0,5,10,15,20,25,30],"format":"d","orient":"left"},"title":null},
     "fill":{"field":"v","type":"quantitative","scale":{"domain":[0,0.0002],"scheme":"viridis"},"legend":{"type":"gradient","orient":"none","legendX":29,"legendY":-20.5,"direction":"horizontal","gradientLength":79,"gradientThickness":8,"labelExpr":"''","labelFontSize":1,"labelOpacity":0,"title":"Transmission","titleFontSize":7.5,"titleFontWeight":"bold","titleColor":"#000","titleAnchor":"middle","titlePadding":3}},
     "stroke":{"field":"v","type":"quantitative","scale":{"domain":[-0.0000001,0.0002],"scheme":"viridis"},"legend":null}}},
   {"data":{"values":[{"x":5.18,"y":27.4,"t":"T"}]},"mark":{"type":"text","align":"left","baseline":"alphabetic","fontSize":11,"fontWeight":"bold","color":"#ffffff"},"encoding":{"x":{"field":"x","type":"quantitative","axis":null},"y":{"field":"y","type":"quantitative","axis":null},"text":{"field":"t","type":"nominal"}}},
   {"data":{"values":[{"x":5.35,"y":27.0,"t":"A:D(90)"}]},"mark":{"type":"text","align":"left","baseline":"alphabetic","fontSize":7.5,"fontWeight":"bold","color":"#ffffff"},"encoding":{"x":{"field":"x","type":"quantitative","axis":null},"y":{"field":"y","type":"quantitative","axis":null},"text":{"field":"t","type":"nominal"}}},
   {"data":{"values":[{"x":3.072,"y":30,"t":"0"}]},"mark":{"type":"text","align":"right","baseline":"middle","dy":-6,"fontSize":8.5,"fontWeight":"bold","color":"#000000"},"encoding":{"x":{"field":"x","type":"quantitative","axis":null},"y":{"field":"y","type":"quantitative","axis":null},"text":{"field":"t","type":"nominal"}}},
   {"data":{"values":[{"x":5.14,"y":30,"t":"2×10⁻⁴"}]},"mark":{"type":"text","align":"left","baseline":"middle","dy":-6,"fontSize":8,"fontWeight":"bold","color":"#000000"},"encoding":{"x":{"field":"x","type":"quantitative","axis":null},"y":{"field":"y","type":"quantitative","axis":null},"text":{"field":"t","type":"nominal"}}},
   {"data":{"values":[{"x":2.5,"y":30,"t":"(b)"}]},"mark":{"type":"text","align":"left","baseline":"middle","dx":-26.5,"dy":-11.5,"fontSize":10,"fontWeight":"bold","color":"#000000"},"encoding":{"x":{"field":"x","type":"quantitative","axis":{"values":[2.75,3.25,3.75,4.25,4.75,5.25,5.75],"labels":false,"domain":false,"tickSize":1.5,"orient":"bottom","title":null}},"y":{"field":"y","type":"quantitative","axis":{"values":[2.5,7.5,12.5,17.5,22.5,27.5],"labels":false,"domain":false,"tickSize":1.5,"orient":"left","title":null}},"text":{"field":"t","type":"nominal"}}}
  ]},
  {"width":145,"height":138.5,"resolve":{"axis":{"x":"independent","y":"independent"}},"layer":[
   {"data":{"name":"C"},"mark":{"type":"rect","strokeWidth":0.6},
    "encoding":{
     "x":{"field":"x","type":"quantitative","bin":{"step":0.1,"extent":[2.5,6]},"scale":{"domain":[2.5,6],"nice":false,"zero":false},"axis":{"values":[2.5,3,3.5,4,4.5,5,5.5,6],"format":".1f","orient":"bottom"},"title":null},
     "y":{"field":"y","type":"quantitative","bin":{"step":5,"extent":[0,30]},"scale":{"domain":[0,30],"nice":false,"zero":false},"axis":{"values":[0,5,10,15,20,25,30],"format":"d","orient":"left"},"title":null},
     "fill":{"field":"v","type":"quantitative","scale":{"type":"log","domain":[1,50000],"scheme":"viridis"},"legend":{"type":"gradient","orient":"none","legendX":29,"legendY":-10,"direction":"horizontal","gradientLength":79,"gradientThickness":8,"labelExpr":"''","labelFontSize":1,"labelOpacity":0,"title":null}},
     "stroke":{"field":"v","type":"quantitative","scale":{"type":"log","domain":[1,50001],"scheme":"viridis"},"legend":null}}},
   {"data":{"name":"M"},"transform":[{"filter":"datum.m=='+1'"}],"mark":{"type":"line","stroke":"#2f6a8e","strokeWidth":1.2,"opacity":0.7},"encoding":{"x":{"field":"x","type":"quantitative","axis":null},"y":{"field":"y","type":"quantitative","axis":null}}},
   {"data":{"name":"M"},"transform":[{"filter":"datum.m=='-1'"}],"mark":{"type":"line","stroke":"#3a4a8a","strokeWidth":1.6,"opacity":0.9},"encoding":{"x":{"field":"x","type":"quantitative","axis":null},"y":{"field":"y","type":"quantitative","axis":null}}},
   {"data":{"values":[{"x":3.655,"y":0},{"x":3.69,"y":7.5},{"x":3.74,"y":15},{"x":3.82,"y":22.5},{"x":3.92,"y":30}]},"mark":{"type":"line","stroke":"#ffffff","strokeWidth":1.5,"strokeDash":[6,2,1.5,2]},"encoding":{"x":{"field":"x","type":"quantitative","axis":null},"y":{"field":"y","type":"quantitative","axis":null}}},
   {"data":{"values":[{"x":3.385,"y":30},{"x":3.45,"y":27.2},{"x":3.545,"y":23.6},{"x":3.63,"y":21.8},{"x":3.71,"y":23.6},{"x":3.79,"y":27.2},{"x":3.86,"y":30}]},"mark":{"type":"line","stroke":"#ffffff","strokeWidth":1.5,"strokeDash":[6,2,1.5,2]},"encoding":{"x":{"field":"x","type":"quantitative","axis":null},"y":{"field":"y","type":"quantitative","axis":null}}},
   {"data":{"values":[{"x":4.11,"y":13.5,"t":"PER = 10³"}]},"mark":{"type":"text","align":"center","baseline":"middle","fontSize":6.5,"fontWeight":"bold","color":"#ffffff"},"encoding":{"x":{"field":"x","type":"quantitative","axis":null},"y":{"field":"y","type":"quantitative","axis":null},"text":{"field":"t","type":"nominal"}}},
   {"data":{"values":[{"x":3.096,"y":30,"t":"1"}]},"mark":{"type":"text","align":"right","baseline":"middle","dy":-6,"fontSize":8.5,"fontWeight":"bold","color":"#000000"},"encoding":{"x":{"field":"x","type":"quantitative","axis":null},"y":{"field":"y","type":"quantitative","axis":null},"text":{"field":"t","type":"nominal"}}},
   {"data":{"values":[{"x":5.15,"y":30,"t":"5×10⁴"}]},"mark":{"type":"text","align":"left","baseline":"middle","dy":-6,"fontSize":8,"fontWeight":"bold","color":"#000000"},"encoding":{"x":{"field":"x","type":"quantitative","axis":null},"y":{"field":"y","type":"quantitative","axis":null},"text":{"field":"t","type":"nominal"}}},
   {"data":{"values":[{"x":3.224,"y":30,"t":"PER"},{"x":3.948,"y":30,"t":"="},{"x":4.175,"y":30,"t":"T"},{"x":4.851,"y":30,"t":"/"},{"x":4.955,"y":30,"t":"T"}]},"mark":{"type":"text","align":"left","baseline":"middle","dy":-18.3,"fontSize":8,"fontWeight":"bold","color":"#000000"},"encoding":{"x":{"field":"x","type":"quantitative","axis":null},"y":{"field":"y","type":"quantitative","axis":null},"text":{"field":"t","type":"nominal"}}},
   {"data":{"values":[{"x":3.64,"y":30,"t":"A:D"},{"x":4.32,"y":30,"t":"A:D(0)"},{"x":5.08,"y":30,"t":"A:D(90)"}]},"mark":{"type":"text","align":"left","baseline":"middle","dy":-16.3,"fontSize":6.5,"fontWeight":"bold","color":"#000000"},"encoding":{"x":{"field":"x","type":"quantitative","axis":null},"y":{"field":"y","type":"quantitative","axis":null},"text":{"field":"t","type":"nominal"}}},
   {"data":{"values":[{"x":2.5,"y":30,"t":"(c)"}]},"mark":{"type":"text","align":"left","baseline":"middle","dx":-29,"dy":-11.5,"fontSize":10,"fontWeight":"bold","color":"#000000"},"encoding":{"x":{"field":"x","type":"quantitative","axis":{"values":[2.75,3.25,3.75,4.25,4.75,5.25,5.75],"labels":false,"domain":false,"tickSize":1.5,"orient":"bottom","title":null}},"y":{"field":"y","type":"quantitative","axis":{"values":[2.5,7.5,12.5,17.5,22.5,27.5],"labels":false,"domain":false,"tickSize":1.5,"orient":"left","title":null}},"text":{"field":"t","type":"nominal"}}}
  ]},
  {"width":145,"height":138.5,"resolve":{"axis":{"x":"independent","y":"independent"}},"layer":[
   {"data":{"name":"D"},"mark":{"type":"rect","strokeWidth":0.6},
    "encoding":{
     "x":{"field":"x","type":"quantitative","bin":{"step":0.1,"extent":[2.5,6]},"scale":{"domain":[2.5,6],"nice":false,"zero":false},"axis":{"values":[2.5,3,3.5,4,4.5,5,5.5,6],"format":".1f","orient":"bottom"},"title":"Wavelength (μm)"},
     "y":{"field":"y","type":"quantitative","bin":{"step":5,"extent":[0,30]},"scale":{"domain":[0,30],"nice":false,"zero":false},"axis":{"values":[0,5,10,15,20,25,30],"format":"d","orient":"left"},"title":"Polar angle, θ (°)"},
     "fill":{"field":"v","type":"quantitative","scale":{"domain":[0,0.53],"scheme":"viridis"},"legend":null},
     "stroke":{"field":"v","type":"quantitative","scale":{"domain":[-0.0001,0.53],"scheme":"viridis"},"legend":null}}},
   {"data":{"values":[{"x":4.04,"y":0},{"x":4.02,"y":10},{"x":3.99,"y":20},{"x":3.956,"y":30}]},"mark":{"type":"line","stroke":"#ffffff","strokeWidth":1.5,"strokeDash":[6,2,1.5,2]},"encoding":{"x":{"field":"x","type":"quantitative","axis":null},"y":{"field":"y","type":"quantitative","axis":null}}},
   {"data":{"name":"XD"},"mark":{"type":"point","shape":"cross","angle":45,"filled":true,"color":"#111111","size":24,"opacity":1,"clip":true},"encoding":{"x":{"field":"x","type":"quantitative","axis":null},"y":{"field":"y","type":"quantitative","axis":null}}},
   {"data":{"values":[{"x":3.64,"y":5.1,"t":"T = 0.3"}]},"mark":{"type":"text","align":"center","baseline":"middle","fontSize":6.5,"fontWeight":"bold","color":"#ffffff"},"encoding":{"x":{"field":"x","type":"quantitative","axis":null},"y":{"field":"y","type":"quantitative","axis":null},"text":{"field":"t","type":"nominal"}}},
   {"data":{"values":[{"x":5.24,"y":27.2,"t":"T"}]},"mark":{"type":"text","align":"left","baseline":"alphabetic","fontSize":11,"fontWeight":"bold","color":"#ffffff"},"encoding":{"x":{"field":"x","type":"quantitative","axis":null},"y":{"field":"y","type":"quantitative","axis":null},"text":{"field":"t","type":"nominal"}}},
   {"data":{"values":[{"x":5.41,"y":26.7,"t":"B:D(0)"}]},"mark":{"type":"text","align":"left","baseline":"alphabetic","fontSize":7.5,"fontWeight":"bold","color":"#ffffff"},"encoding":{"x":{"field":"x","type":"quantitative","axis":null},"y":{"field":"y","type":"quantitative","axis":null},"text":{"field":"t","type":"nominal"}}},
   {"data":{"values":[{"x":2.5,"y":30,"t":"(d)"}]},"mark":{"type":"text","align":"left","baseline":"middle","dx":-28.5,"dy":-10.5,"fontSize":10,"fontWeight":"bold","color":"#000000"},"encoding":{"x":{"field":"x","type":"quantitative","axis":{"values":[2.75,3.25,3.75,4.25,4.75,5.25,5.75],"labels":false,"domain":false,"tickSize":1.5,"orient":"bottom","title":null}},"y":{"field":"y","type":"quantitative","axis":{"values":[2.5,7.5,12.5,17.5,22.5,27.5],"labels":false,"domain":false,"tickSize":1.5,"orient":"left","title":null}},"text":{"field":"t","type":"nominal"}}}
  ]},
  {"width":145,"height":138.5,"resolve":{"axis":{"x":"independent","y":"independent"}},"layer":[
   {"data":{"name":"E"},"mark":{"type":"rect","strokeWidth":0.6},
    "encoding":{
     "x":{"field":"x","type":"quantitative","bin":{"step":0.1,"extent":[2.5,6]},"scale":{"domain":[2.5,6],"nice":false,"zero":false},"axis":{"values":[2.5,3,3.5,4,4.5,5,5.5,6],"format":".1f","orient":"bottom"},"title":"Wavelength (μm)"},
     "y":{"field":"y","type":"quantitative","bin":{"step":30,"extent":[0,30]},"scale":{"domain":[0,30],"nice":false,"zero":false},"axis":{"values":[0,5,10,15,20,25,30],"format":"d","orient":"left"},"title":null},
     "fill":{"field":"v","type":"quantitative","scale":{"domain":[0,0.0002],"scheme":"viridis"},"legend":null},
     "stroke":{"field":"v","type":"quantitative","scale":{"domain":[-0.0000001,0.0002],"scheme":"viridis"},"legend":null}}},
   {"data":{"values":[{"x":5.155,"y":27.2,"t":"T"}]},"mark":{"type":"text","align":"left","baseline":"alphabetic","fontSize":11,"fontWeight":"bold","color":"#ffffff"},"encoding":{"x":{"field":"x","type":"quantitative","axis":null},"y":{"field":"y","type":"quantitative","axis":null},"text":{"field":"t","type":"nominal"}}},
   {"data":{"values":[{"x":5.325,"y":26.8,"t":"B:D(90)"}]},"mark":{"type":"text","align":"left","baseline":"alphabetic","fontSize":7.5,"fontWeight":"bold","color":"#ffffff"},"encoding":{"x":{"field":"x","type":"quantitative","axis":null},"y":{"field":"y","type":"quantitative","axis":null},"text":{"field":"t","type":"nominal"}}},
   {"data":{"values":[{"x":2.5,"y":30,"t":"(e)"}]},"mark":{"type":"text","align":"left","baseline":"middle","dx":-23,"dy":-10,"fontSize":10,"fontWeight":"bold","color":"#000000"},"encoding":{"x":{"field":"x","type":"quantitative","axis":{"values":[2.75,3.25,3.75,4.25,4.75,5.25,5.75],"labels":false,"domain":false,"tickSize":1.5,"orient":"bottom","title":null}},"y":{"field":"y","type":"quantitative","axis":{"values":[2.5,7.5,12.5,17.5,22.5,27.5],"labels":false,"domain":false,"tickSize":1.5,"orient":"left","title":null}},"text":{"field":"t","type":"nominal"}}}
  ]},
  {"width":145,"height":138.5,"resolve":{"axis":{"x":"independent","y":"independent"}},"layer":[
   {"data":{"name":"F"},"mark":{"type":"rect","strokeWidth":0.6},
    "encoding":{
     "x":{"field":"x","type":"quantitative","bin":{"step":0.1,"extent":[2.5,6]},"scale":{"domain":[2.5,6],"nice":false,"zero":false},"axis":{"values":[2.5,3,3.5,4,4.5,5,5.5,6],"format":".1f","orient":"bottom"},"title":"Wavelength (μm)"},
     "y":{"field":"y","type":"quantitative","bin":{"step":30,"extent":[0,30]},"scale":{"domain":[0,30],"nice":false,"zero":false},"axis":{"values":[0,5,10,15,20,25,30],"format":"d","orient":"left"},"title":null},
     "fill":{"field":"v","type":"quantitative","scale":{"type":"log","domain":[1,50000],"scheme":"viridis"},"legend":null},
     "stroke":{"field":"v","type":"quantitative","scale":{"type":"log","domain":[1,50001],"scheme":"viridis"},"legend":null}}},
   {"data":{"values":[{"x":3.44,"y":0},{"x":3.43,"y":5},{"x":3.42,"y":10},{"x":3.41,"y":15},{"x":3.40,"y":20},{"x":3.39,"y":25},{"x":3.385,"y":30}]},"mark":{"type":"line","stroke":"#3b0f6f","strokeWidth":2},"encoding":{"x":{"field":"x","type":"quantitative","axis":null},"y":{"field":"y","type":"quantitative","axis":null}}},
   {"data":{"values":[{"x":3.68,"y":0},{"x":3.65,"y":10},{"x":3.62,"y":20},{"x":3.585,"y":30}]},"mark":{"type":"line","stroke":"#ffffff","strokeWidth":1.5,"strokeDash":[6,2,1.5,2]},"encoding":{"x":{"field":"x","type":"quantitative","axis":null},"y":{"field":"y","type":"quantitative","axis":null}}},
   {"data":{"values":[{"x":4.05,"y":14.8,"t":"PER = 10³"}]},"mark":{"type":"text","align":"center","baseline":"middle","fontSize":6.5,"fontWeight":"bold","color":"#ffffff"},"encoding":{"x":{"field":"x","type":"quantitative","axis":null},"y":{"field":"y","type":"quantitative","axis":null},"text":{"field":"t","type":"nominal"}}},
   {"data":{"values":[{"x":3.248,"y":30,"t":"PER"},{"x":3.949,"y":30,"t":"="},{"x":4.11,"y":30,"t":"T"},{"x":4.80,"y":30,"t":"/"},{"x":4.875,"y":30,"t":"T"}]},"mark":{"type":"text","align":"left","baseline":"middle","dy":-4.7,"fontSize":8,"fontWeight":"bold","color":"#000000"},"encoding":{"x":{"field":"x","type":"quantitative","axis":null},"y":{"field":"y","type":"quantitative","axis":null},"text":{"field":"t","type":"nominal"}}},
   {"data":{"values":[{"x":3.66,"y":30,"t":"B:D"},{"x":4.27,"y":30,"t":"B:D(0)"},{"x":5.035,"y":30,"t":"B:D(90)"}]},"mark":{"type":"text","align":"left","baseline":"middle","dy":-2.8,"fontSize":6.5,"fontWeight":"bold","color":"#000000"},"encoding":{"x":{"field":"x","type":"quantitative","axis":null},"y":{"field":"y","type":"quantitative","axis":null},"text":{"field":"t","type":"nominal"}}},
   {"data":{"values":[{"x":2.5,"y":30,"t":"(f)"}]},"mark":{"type":"text","align":"left","baseline":"middle","dx":-25,"dy":-10,"fontSize":10,"fontWeight":"bold","color":"#000000"},"encoding":{"x":{"field":"x","type":"quantitative","axis":{"values":[2.75,3.25,3.75,4.25,4.75,5.25,5.75],"labels":false,"domain":false,"tickSize":1.5,"orient":"bottom","title":null}},"y":{"field":"y","type":"quantitative","axis":{"values":[2.5,7.5,12.5,17.5,22.5,27.5],"labels":false,"domain":false,"tickSize":1.5,"orient":"left","title":null}},"text":{"field":"t","type":"nominal"}}}
  ]}
]
}
